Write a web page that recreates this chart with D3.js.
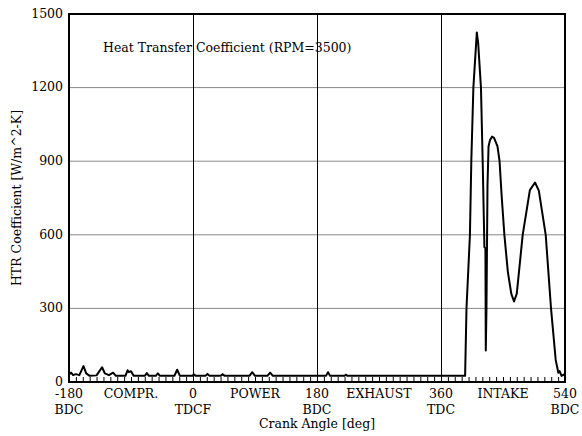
<!DOCTYPE html>
<html>
<head>
<title>Heat Transfer Coefficient</title>
<script src="https://d3js.org/d3.v7.min.js"></script>
<style>
  body { margin: 0; background: #fff; }
  text { font-family: "DejaVu Serif", serif; font-size: 12.5px; fill: #000; }
</style>
</head>
<body>
<div id="chart"></div>
<script>
// crank angle [deg] and heat transfer coefficient [W/m^2-K]
const angle = [-180, -177, -174, -170, -165, -159, -155, -150, -140, -132, -128, -122, -116, -112,
  -98, -95, -93, -90, -86, -70, -67, -64, -54, -51, -48, -27, -23, -19,
  0, 1, 4, 18, 21, 24, 40, 43, 46, 82, 86, 90, 108, 112, 116, 193, 196, 199, 220, 222, 224,
  395, 397, 402, 404, 407, 412, 414, 418, 420.5, 423, 424.5, 425, 426, 427.5, 429, 431, 434, 437,
  442, 445, 448, 452, 457, 462, 466, 470, 478.6, 489, 496.5, 502, 512, 519.7, 526.5, 530.3,
  532, 535, 538, 540];
const htc = [30, 38, 28, 32, 28, 65, 35, 25, 27, 60, 35, 28, 38, 25,
  25, 48, 40, 44, 25, 25, 36, 25, 25, 35, 25, 25, 50, 25,
  25, 32, 25, 25, 33, 25, 25, 32, 25, 25, 40, 25, 25, 38, 25, 25, 40, 25, 25, 30, 25,
  25, 300, 600, 900, 1200, 1425, 1380, 1200, 900, 550, 545, 128, 300, 800, 960, 985, 1000, 995,
  960, 900, 760, 600, 450, 360, 328, 360, 600, 782, 813, 780, 600, 300, 90, 38,
  45, 25, 30, 25];

const xTicks = [-180, 0, 180, 360, 540];
const xSub = ["BDC", "TDCF", "BDC", "TDC", "BDC"];
const strokes = [-90, 90, 270, 450];
const strokeNames = ["COMPR.", "POWER", "EXHAUST", "INTAKE"];
const yTicks = [0, 300, 600, 900, 1200, 1500];

const W = 582, H = 436;
const margin = {top: 14, right: 17, bottom: 54, left: 69};

const svg = d3.select("#chart").append("svg")
  .attr("width", W).attr("height", H);

const x = d3.scaleLinear().domain([-180, 540]).range([margin.left, W - margin.right]);
const y = d3.scaleLinear().domain([0, 1500]).range([H - margin.bottom, margin.top]);

// gray horizontal grid
svg.append("g")
  .selectAll("line").data(yTicks.slice(1, -1)).join("line")
  .attr("x1", x(-180)).attr("x2", x(540))
  .attr("y1", d => y(d)).attr("y2", d => y(d))
  .attr("stroke", "#888").attr("stroke-width", 1);

// black vertical lines at TDC/BDC
svg.append("g")
  .selectAll("line").data(xTicks.slice(1, -1)).join("line")
  .attr("x1", d => x(d) + 0.5).attr("x2", d => x(d) + 0.5)
  .attr("y1", y(1500)).attr("y2", y(0))
  .attr("stroke", "#000").attr("stroke-width", 1);

// minor ticks every 10 deg, pointing up from the bottom
const xAxis = d3.axisTop(x).tickValues(d3.range(-180, 541, 10)).tickSize(5).tickFormat("");
svg.append("g")
  .attr("transform", `translate(0,${y(0)})`)
  .call(xAxis)
  .call(g => g.select(".domain").remove())
  .call(g => g.selectAll("line").attr("stroke", "#000"));

// curve
const pts = angle.map((a, i) => [a, htc[i]]);
svg.append("path")
  .datum(pts)
  .attr("fill", "none")
  .attr("stroke", "#000")
  .attr("stroke-width", 2)
  .attr("stroke-linejoin", "round")
  .attr("d", d3.line().x(d => x(d[0])).y(d => y(d[1])));

// frame
svg.append("rect")
  .attr("x", x(-180)).attr("y", y(1500))
  .attr("width", x(540) - x(-180)).attr("height", y(0) - y(1500))
  .attr("fill", "none").attr("stroke", "#000").attr("stroke-width", 2);

// y tick labels
svg.append("g")
  .selectAll("text").data(yTicks).join("text")
  .attr("x", x(-180) - 6).attr("y", d => y(d))
  .attr("dy", "0.3em")
  .attr("text-anchor", "end")
  .text(d => d);

// x tick labels
const xl = svg.append("g");
xl.selectAll("text.v").data(xTicks).join("text")
  .attr("class", "v")
  .attr("x", d => x(d)).attr("y", 398)
  .attr("text-anchor", "middle")
  .text(d => d);
xl.selectAll("text.s").data(xTicks).join("text")
  .attr("class", "s")
  .attr("x", d => x(d)).attr("y", 414)
  .attr("text-anchor", "middle")
  .text((d, i) => xSub[i]);
xl.selectAll("text.k").data(strokes).join("text")
  .attr("class", "k")
  .attr("x", d => x(d)).attr("y", 398)
  .attr("text-anchor", "middle")
  .text((d, i) => strokeNames[i]);

svg.append("text")
  .attr("x", (x(-180) + x(540)) / 2).attr("y", 428)
  .attr("text-anchor", "middle")
  .text("Crank Angle [deg]");

svg.append("text")
  .attr("transform", `translate(21,${(y(0) + y(1500)) / 2}) rotate(-90)`)
  .attr("text-anchor", "middle")
  .text("HTR Coefficient [W/m^2-K]");

svg.append("text")
  .attr("x", 103).attr("y", 52)
  .text("Heat Transfer Coefficient (RPM=3500)");
</script>
</body>
</html>
